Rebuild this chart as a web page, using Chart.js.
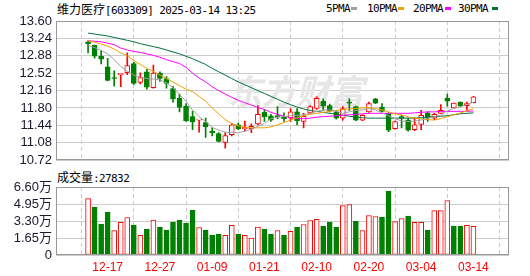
<!DOCTYPE html>
<html>
<head>
<meta charset="utf-8">
<script src="https://cdn.jsdelivr.net/npm/chart.js@4.4.1/dist/chart.umd.min.js"></script>
<style>
    body { margin: 0; background: #fff; width: 530px; height: 276px; overflow: hidden; position: relative; }
    canvas { position: absolute; left: 0; }
    #priceChart { top: 0; }
    #volChart { top: 170px; }
    .txt { position: absolute; white-space: nowrap; font-size: 12px; line-height: 14px; color: #000; }
    .mono { font-family: "DejaVu Sans Mono", monospace; font-size: 11px; letter-spacing: -0.6px; }
    .cjk { font-family: "Noto Sans CJK SC", sans-serif; }
    .sw { position: absolute; width: 6px; height: 3px; }
</style>
</head>
<body>
<div class="txt" style="left:57px;top:2px;"><span class="cjk">维力医疗</span><span class="mono">[603309] 2025-03-14 13:25</span></div>
<div id="legend"></div>
<div class="txt" style="left:57px;top:170px;"><span class="cjk">成交量</span><span class="mono">:27832</span></div>
<canvas id="priceChart" width="530" height="172"></canvas>
<canvas id="volChart" width="530" height="106"></canvas>
<script>
// --- 데이터 ---
const dates = ["12-12","12-13","12-16","12-17","12-18","12-19","12-20","12-23","12-24","12-25",
    "12-26","12-27","12-30","12-31","01-02","01-03","01-06","01-07","01-08","01-09",
    "01-10","01-13","01-14","01-15","01-16","01-17","01-20","01-21","01-22","01-23",
    "01-24","01-27","02-05","02-06","02-07","02-10","02-11","02-12","02-13","02-14",
    "02-17","02-18","02-19","02-20","02-21","02-24","02-25","02-26","02-27","02-28",
    "03-03","03-04","03-05","03-06","03-07","03-10","03-11","03-12","03-13","03-14"];
const labelIdx = [3, 11, 19, 27, 35, 43, 51, 59];

const opens  = [13.17,13.10,12.87,12.65,12.43,12.49,12.53,12.72,12.33,12.55,
    12.22,12.52,12.41,12.20,12.00,11.84,11.62,11.55,11.50,11.32,
    11.27,11.09,11.25,11.45,11.37,11.37,11.47,11.71,11.64,11.63,
    11.62,11.59,11.72,11.52,11.70,11.79,11.94,11.85,11.72,11.59,
    11.91,11.83,11.55,11.72,11.99,11.82,11.69,11.37,11.62,11.55,
    11.35,11.46,11.70,11.59,11.69,12.00,11.80,11.92,11.85,11.91];
const closes = [13.13,12.87,12.81,12.37,12.41,12.50,12.68,12.31,12.43,12.23,
    12.52,12.41,12.31,11.99,11.81,11.54,11.51,11.55,11.41,11.29,
    11.11,11.23,11.45,11.37,11.40,11.42,11.67,11.62,11.55,11.62,
    11.58,11.72,11.54,11.63,11.83,12.00,11.84,11.74,11.59,11.79,
    11.90,11.55,11.65,11.89,11.90,11.73,11.34,11.52,11.59,11.34,
    11.45,11.65,11.59,11.67,11.75,11.94,11.90,11.85,11.89,12.03];
const highs  = [13.19,13.10,12.99,12.83,12.57,12.50,12.94,12.75,12.53,12.60,
    12.69,12.55,12.45,12.25,12.09,11.89,11.73,11.55,11.59,11.39,
    11.29,11.29,11.47,11.49,11.53,11.47,11.85,11.77,11.67,11.83,
    11.70,11.79,11.79,11.69,11.85,12.03,11.99,11.88,11.75,11.83,
    11.99,11.84,11.66,11.92,12.00,11.89,11.70,11.53,11.65,11.59,
    11.59,11.75,11.72,11.69,11.87,12.09,11.90,11.93,11.92,12.04];
const lows   = [12.94,12.83,12.71,12.36,12.25,12.24,12.49,12.29,12.30,12.19,
    12.21,12.35,12.21,11.92,11.72,11.52,11.35,11.30,11.19,11.22,
    11.10,10.97,11.22,11.35,11.32,11.29,11.45,11.52,11.52,11.58,
    11.52,11.52,11.45,11.39,11.68,11.77,11.75,11.72,11.57,11.55,
    11.75,11.54,11.54,11.71,11.89,11.72,11.31,11.36,11.39,11.32,
    11.33,11.35,11.52,11.56,11.69,11.84,11.80,11.82,11.75,11.91];

const ma5  = [13.10,13.05,12.99,12.92,12.80,12.66,12.56,12.48,12.44,12.41,
    12.40,12.38,12.32,12.22,12.08,11.94,11.76,11.62,11.52,11.40,
    11.34,11.30,11.29,11.29,11.32,11.36,11.42,11.48,11.58,11.61,
    11.62,11.64,11.65,11.66,11.69,11.73,11.76,11.76,11.73,11.69,
    11.72,11.75,11.76,11.79,11.76,11.70,11.64,11.58,11.53,11.52,
    11.53,11.55,11.59,11.62,11.65,11.74,11.79,11.83,11.87,11.92];
const ma10 = [13.19,13.16,13.12,13.08,13.02,12.94,12.88,12.78,12.70,12.62,
    12.56,12.48,12.41,12.34,12.26,12.19,12.14,12.04,11.94,11.80,
    11.68,11.56,11.48,11.43,11.40,11.39,11.39,11.39,11.41,11.45,
    11.50,11.55,11.60,11.64,11.67,11.69,11.71,11.73,11.75,11.77,
    11.78,11.79,11.80,11.81,11.79,11.76,11.72,11.68,11.66,11.62,
    11.59,11.57,11.56,11.55,11.58,11.62,11.66,11.70,11.74,11.79];
const ma20 = [13.19,13.18,13.17,13.14,13.11,13.04,13.00,12.97,12.95,12.92,
    12.89,12.85,12.80,12.76,12.72,12.64,12.52,12.42,12.34,12.24,
    12.16,12.09,12.02,11.96,11.91,11.86,11.81,11.77,11.71,11.67,
    11.63,11.60,11.58,11.58,11.59,11.61,11.62,11.63,11.64,11.65,
    11.66,11.67,11.68,11.69,11.69,11.69,11.69,11.69,11.69,11.69,
    11.70,11.71,11.72,11.72,11.73,11.73,11.73,11.73,11.73,11.74];
const ma30 = [13.35,13.33,13.31,13.29,13.26,13.23,13.20,13.17,13.13,13.10,
    13.07,13.04,13.00,12.96,12.92,12.87,12.82,12.76,12.70,12.62,
    12.55,12.48,12.41,12.34,12.28,12.22,12.16,12.10,12.04,11.98,
    11.92,11.87,11.82,11.78,11.75,11.73,11.71,11.69,11.67,11.65,
    11.63,11.61,11.60,11.59,11.59,11.59,11.59,11.59,11.59,11.59,
    11.59,11.60,11.61,11.62,11.63,11.64,11.66,11.68,11.69,11.70];

const volumes = [54700,46400,29900,41500,23800,31600,36400,29000,19000,25100,
    33800,27000,24200,31900,33800,30900,43500,26700,24200,19300,
    20300,19000,28700,20300,19000,16400,27000,25100,20300,23800,
    19300,22900,27000,29600,33500,34500,28000,31900,27000,48000,
    48900,32800,23800,38300,37400,36700,61800,32500,35400,37700,
    31600,31600,24200,43100,43100,52800,28000,28000,28700,27832];
// 1 = 전일 대비 상승(빨강), 0 = 하락(초록)
const volUp = [1,0,0,0,1,1,1,0,1,0, 1,0,0,0,0,0,0,1,0,0, 0,1,1,0,1,1,1,0,0,1,
    0,1,0,1,1,1,0,0,0,1, 1,0,1,1,1,0,0,1,1,0, 1,1,0,1,1,1,0,0,1,1];

const priceTicks = [10.72, 11.08, 11.44, 11.80, 12.16, 12.52, 12.88, 13.24, 13.60];
const volTicks = [0, 16500, 33000, 49500, 66000];

const maNames = ["5PMA", "10PMA", "20PMA", "30PMA"];
const maColors = ["#a0a0a0", "#f0a000", "#ff00ff", "#00703c"];
const RED = "#ff0000";
const GREEN = "#008000";

// --- 범례 ---
const legendX = [326, 367, 413, 458];
const swatchX = [351, 398, 445, 492];
const legend = document.getElementById('legend');
maNames.forEach((n, k) => {
    legend.innerHTML += `<div class="txt mono" style="left:${legendX[k]}px;top:2px;">${n}</div>` +
        `<div class="sw" style="left:${swatchX[k]}px;top:7px;background:${maColors[k]}"></div>`;
});

const idx = dates.map((d, i) => i);
const isUp = i => closes[i] > opens[i] || (closes[i] === opens[i] && volUp[i] === 1);

// x축 공통 설정 (선형축, 라벨 위치에만 점선 그리드)
function xAxis(showLabels) {
    return {
        type: 'linear', min: -0.576, max: 60.11,
        afterBuildTicks: s => { s.ticks = labelIdx.map(v => ({ value: v })); },
        afterFit: s => { s.height = showLabels ? 21 : 0; },
        grid: { color: '#cccccc', drawTicks: false, lineWidth: 1 },
        border: { display: false, dash: [4, 3] },
        ticks: {
            display: showLabels, autoSkip: false, maxRotation: 0, padding: 5,
            color: RED, font: { family: 'Liberation Sans', size: 12 },
            callback: v => dates[v]
        }
    };
}

const framePlugin = {
    id: 'frame',
    afterDatasetsDraw(chart) {
        const a = chart.chartArea, c = chart.ctx;
        c.save();
        c.strokeStyle = '#999999';
        c.lineWidth = 1;
        c.strokeRect(Math.round(a.left) + 0.5, Math.round(a.top) + 0.5,
            Math.round(a.right - a.left) - 1, Math.round(a.bottom - a.top) - 1);
        c.restore();
    }
};

const watermarkPlugin = {
    id: 'watermark',
    beforeDatasetsDraw(chart) {
        const c = chart.ctx;
        c.save();
        c.fillStyle = '#e6e6e6';
        c.font = 'italic bold 34px "Noto Sans CJK SC"';
        c.textBaseline = 'alphabetic';
        c.fillText('东方财富', 228, 104);
        c.restore();
    }
};

const yTickFont = { family: 'Liberation Sans', size: 13 };

// --- 가격 차트 ---
new Chart(document.getElementById('priceChart'), {
    data: {
        datasets: [
            ...maNames.map((n, k) => ({
                type: 'line', label: n, order: 0,
                data: [ma5, ma10, ma20, ma30][k].map((v, i) => ({ x: i, y: v })),
                borderColor: maColors[k], borderWidth: 1, pointRadius: 0, tension: 0
            })),
            {
                type: 'bar', label: 'body', order: 1, grouped: false,
                data: idx.map(i => ({ x: i, y: [opens[i], closes[i]] })),
                backgroundColor: idx.map(i => isUp(i) ? '#ffffff' : GREEN),
                borderColor: idx.map(i => isUp(i) ? RED : GREEN),
                borderWidth: 1, borderSkipped: false, barThickness: 5, minBarLength: 1
            },
            {
                type: 'bar', label: 'wick', order: 2, grouped: false,
                data: idx.map(i => ({ x: i, y: [lows[i], highs[i]] })),
                backgroundColor: idx.map(i => isUp(i) ? RED : GREEN),
                barThickness: 1
            }
        ]
    },
    options: {
        responsive: false, animation: false,
        layout: { padding: { top: 21, right: 21, bottom: 7, left: 0 } },
        plugins: { legend: { display: false }, tooltip: { enabled: false } },
        scales: {
            x: xAxis(false),
            y: {
                min: 10.72, max: 13.60,
                afterBuildTicks: s => { s.ticks = priceTicks.map(v => ({ value: v })); },
                afterFit: s => { s.width = 56; },
                grid: { color: '#cccccc', drawTicks: false },
                border: { display: false },
                ticks: { autoSkip: false, padding: 4, color: '#1a1a2e', font: yTickFont, callback: v => v.toFixed(2) }
            }
        }
    },
    plugins: [watermarkPlugin, framePlugin]
});

// --- 거래량 차트 ---
new Chart(document.getElementById('volChart'), {
    type: 'bar',
    data: {
        datasets: [{
            data: idx.map(i => ({ x: i, y: volumes[i] })),
            backgroundColor: idx.map(i => volUp[i] ? '#ffffff' : GREEN),
            borderColor: idx.map(i => volUp[i] ? RED : GREEN),
            borderWidth: 1, borderSkipped: false, barThickness: 5
        }]
    },
    options: {
        responsive: false, animation: false,
        layout: { padding: { top: 17, right: 21, bottom: 0, left: 0 } },
        plugins: { legend: { display: false }, tooltip: { enabled: false } },
        scales: {
            x: xAxis(true),
            y: {
                min: 0, max: 66000,
                afterBuildTicks: s => { s.ticks = volTicks.map(v => ({ value: v })); },
                afterFit: s => { s.width = 56; },
                grid: { color: '#cccccc', drawTicks: false },
                border: { display: false },
                ticks: {
                    autoSkip: false, padding: 4, color: '#1a1a2e',
                    font: { family: 'Liberation Sans, Noto Sans CJK SC', size: 13 },
                    callback: v => v === 0 ? '0' : (v / 10000).toFixed(2) + '万'
                }
            }
        }
    },
    plugins: [framePlugin]
});
</script>
</body>
</html>
